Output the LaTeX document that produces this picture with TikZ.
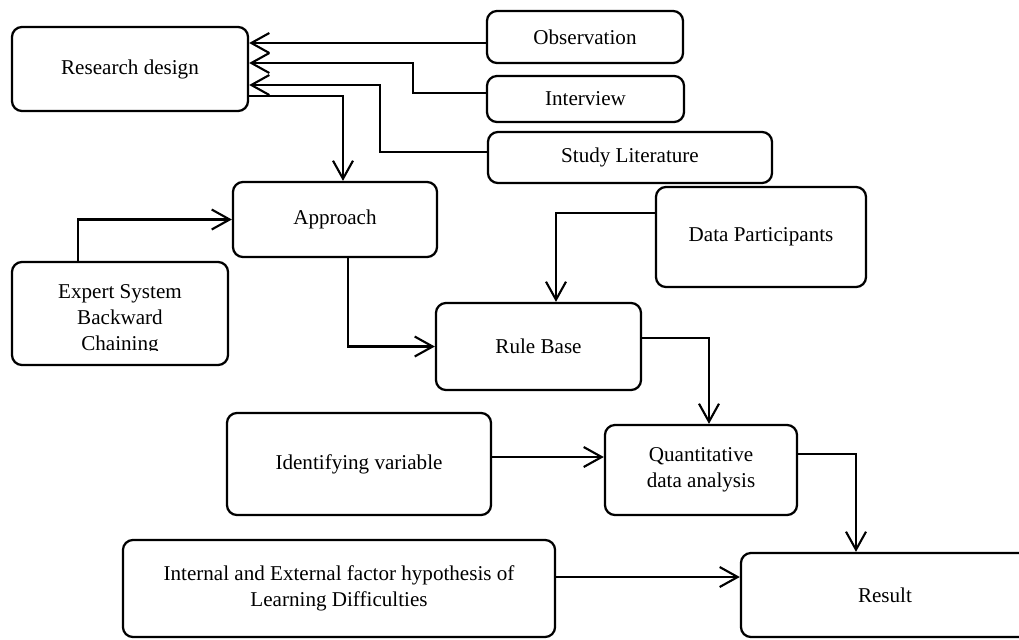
\documentclass[tikz,border=0pt]{standalone}
\usepackage{fontspec}
\setmainfont{Liberation Serif}
\usetikzlibrary{arrows.meta}
\begin{document}
\begin{tikzpicture}[x=0.025cm,y=-0.025cm,
  every node/.style={font=\fontsize{15pt}{18.5pt}\selectfont},
  box/.style={draw,line width=1.6pt,rounded corners=0.25cm,align=center,inner sep=0pt},
  arr/.style={line width=1.5pt,-{Straight Barb[length=4.5mm,width=5mm,line width=1.5pt]}}]
\useasboundingbox (0,0) rectangle (1019,639);
\node[box,minimum width=5.9cm,minimum height=2.1cm] (design) at (130,69) {Research design};
\node[box,minimum width=4.9cm,minimum height=1.3cm] (obs) at (585,37) {Observation};
\node[box,minimum width=4.925cm,minimum height=1.15cm] (interview) at (585.5,99) {Interview};
\node[box,minimum width=7.1cm,minimum height=1.275cm] (studylit) at (630,157.5) {Study Literature};
\node[box,minimum width=5.1cm,minimum height=1.875cm] (approach) at (335,219.5) {Approach};
\node[box,minimum width=5.4cm,minimum height=2.575cm] (expert) at (120,313.5) {};
\begin{scope}
\clip (12,262) rectangle (228,350);
\node[align=center] (expertlbl) at (120,320) {Expert System\\Backward\\Chaining};
\end{scope}
\node[box,minimum width=5.25cm,minimum height=2.5cm] (data) at (761,237) {Data Participants};
\node[box,minimum width=5.125cm,minimum height=2.175cm] (rule) at (538.5,346.5) {Rule Base};
\node[box,minimum width=6.6cm,minimum height=2.55cm] (ident) at (359,464) {Identifying variable};
\node[box,minimum width=4.8cm,minimum height=2.25cm] (quant) at (701,470) {Quantitative\\data analysis};
\node[box,minimum width=10.8cm,minimum height=2.425cm] (internal) at (339,588.5) {Internal and External factor hypothesis of\\Learning Difficulties};
\node[box,minimum width=7.2cm,minimum height=2.1cm] (result) at (885,595) {Result};
% connectors
\draw[arr] (obs.west |- 0,43) -- (design.east |- 0,43);
\draw[arr] (interview.west |- 0,93) -| (413,63) -- (design.east |- 0,63);
\draw[arr] (studylit.west |- 0,152) -| (380,85) -- (design.east |- 0,85);
\draw[arr] (design.east |- 0,96) -| (approach.north -| 343,0);
\draw[arr] (expert.north -| 78,0) |- (approach.west);
\draw[arr] (approach.south -| 348,0) |- (rule.west);
\draw[arr] (data.west |- 0,213) -| (rule.north -| 556,0);
\draw[arr] (rule.east |- 0,338) -| (quant.north -| 709,0);
\draw[arr] (ident.east |- 0,457) -- (quant.west |- 0,457);
\draw[arr] (quant.east |- 0,454) -| (result.north -| 856,0);
\draw[arr] (internal.east |- 0,577) -- (result.west |- 0,577);
\end{tikzpicture}
\end{document}
